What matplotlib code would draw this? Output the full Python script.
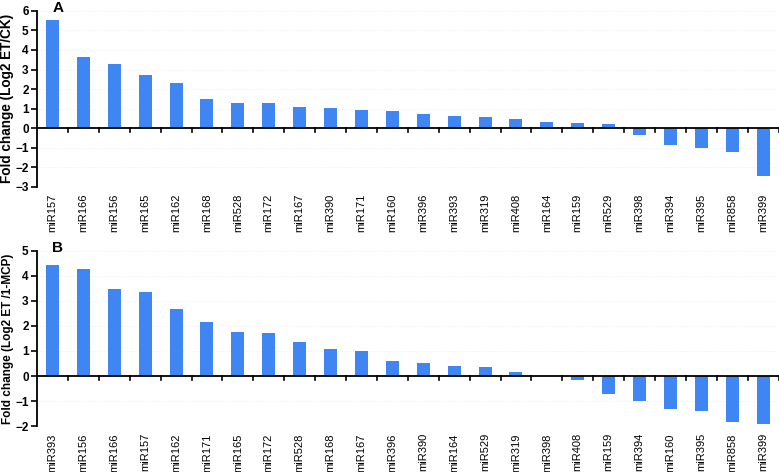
import numpy as np
import matplotlib.pyplot as plt

plt.rcParams['font.family'] = ['Liberation Sans', 'DejaVu Sans']

# Panel A: ET vs CK
mirs_a = ['miR157', 'miR166', 'miR156', 'miR165', 'miR162', 'miR168', 'miR528',
          'miR172', 'miR167', 'miR390', 'miR171', 'miR160', 'miR396', 'miR393',
          'miR319', 'miR408', 'miR164', 'miR159', 'miR529', 'miR398', 'miR394',
          'miR395', 'miR858', 'miR399']
fc_a = [5.54, 3.62, 3.28, 2.72, 2.29, 1.49, 1.28, 1.28, 1.11, 1.01, 0.92, 0.90,
        0.73, 0.65, 0.56, 0.46, 0.34, 0.29, 0.22, -0.34, -0.86, -1.01, -1.20, -2.45]

# Panel B: ET vs 1-MCP
mirs_b = ['miR393', 'miR156', 'miR166', 'miR157', 'miR162', 'miR171', 'miR165',
          'miR172', 'miR528', 'miR168', 'miR167', 'miR396', 'miR390', 'miR164',
          'miR529', 'miR319', 'miR398', 'miR408', 'miR159', 'miR394', 'miR160',
          'miR395', 'miR858', 'miR399']
fc_b = [4.43, 4.27, 3.49, 3.36, 2.67, 2.14, 1.77, 1.73, 1.35, 1.06, 1.00, 0.61,
        0.51, 0.42, 0.38, 0.16, 0.0, -0.16, -0.71, -1.00, -1.30, -1.38, -1.83, -1.93]

bar_color = '#3f86f2'

fig = plt.figure(figsize=(7.79, 4.72), dpi=100)
ax_a = fig.add_axes([0.0475, 0.604, 0.952, 0.373])
ax_b = fig.add_axes([0.0475, 0.097, 0.952, 0.372])


def draw_panel(ax, names, vals, ylim, ylabel, ylabel_size, letter):
    x = np.arange(len(names))
    ax.bar(x, vals, width=0.42, color=bar_color, zorder=3)
    ax.set_xlim(-0.5, len(names) - 0.5)
    ax.set_ylim(*ylim)
    ax.set_yticks(range(ylim[0], ylim[1] + 1))
    ax.tick_params(axis='y', direction='out', length=4, width=1.2,
                   labelsize=8.5, pad=2)
    for t in ax.get_yticklabels():
        t.set_fontweight('bold')
    # x axis line at zero with small ticks between categories
    ax.spines['top'].set_visible(False)
    ax.spines['right'].set_visible(False)
    ax.spines['bottom'].set_visible(False)
    ax.spines['left'].set_linewidth(1.3)
    ax.axhline(0, color='black', lw=1.3, zorder=4)
    for b in x + 0.5:
        ax.plot([b, b], [0, -0.02 * (ylim[1] - ylim[0])], color='black',
                lw=1.2, zorder=4, clip_on=False)
    ax.set_xticks(x)
    ax.set_xticklabels(names, rotation=90, fontsize=8)
    ax.tick_params(axis='x', length=0, pad=5)
    ax.grid(axis='y', color='#eeeeee', lw=0.6, ls=':', zorder=0)
    ax.set_ylabel(ylabel, fontsize=ylabel_size, fontweight='bold')
    ax.yaxis.set_label_coords(-0.031, 0.5)
    ax.text(0.028, 1.015, letter, transform=ax.transAxes, fontsize=11,
            fontweight='bold', ha='center', va='center')


draw_panel(ax_a, mirs_a, fc_a, (-3, 6), 'Fold change (Log2 ET/CK)', 9.8, 'A')
draw_panel(ax_b, mirs_b, fc_b, (-2, 5), 'Fold change (Log2 ET /1-MCP)', 8.5, 'B')

fig.savefig('out.png', dpi=100)
